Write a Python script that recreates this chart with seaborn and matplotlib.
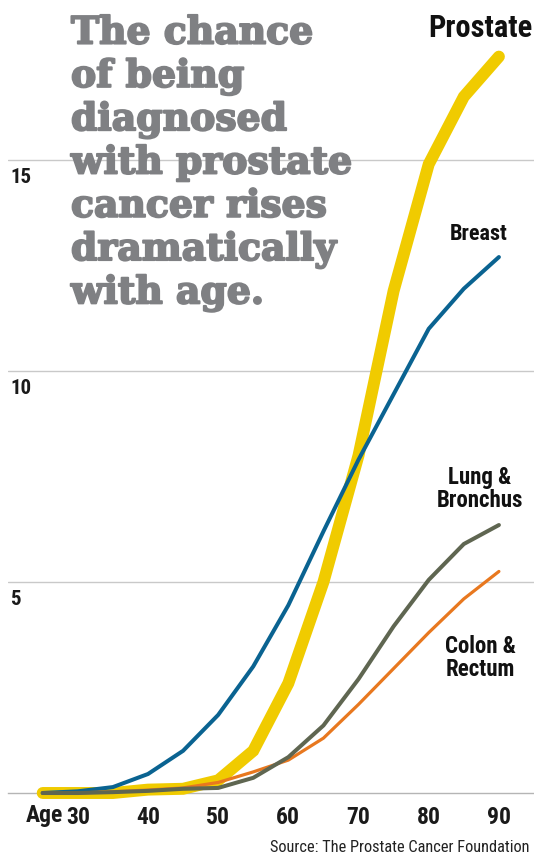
import numpy as np
import pandas as pd
import matplotlib
matplotlib.use('Agg')
import matplotlib.pyplot as plt
import matplotlib.patheffects as pe
import seaborn as sns

# lifetime chance (%) of diagnosis by age
ages = [25, 30, 35, 40, 45, 50, 55, 60, 65, 70, 75, 80, 85, 90]
prostate = [0.0, 0.0, 0.0, 0.08, 0.1, 0.3, 1.0, 2.6, 5.0, 8.0, 11.9, 14.9, 16.5, 17.45]
breast = [0.0, 0.04, 0.14, 0.45, 1.0, 1.85, 3.0, 4.45, 6.2, 7.9, 9.45, 11.0, 11.95, 12.7]
lung = [0.0, 0.0, 0.02, 0.05, 0.1, 0.12, 0.36, 0.85, 1.6, 2.7, 3.95, 5.05, 5.9, 6.35]
colon = [0.0, 0.0, 0.03, 0.07, 0.12, 0.25, 0.5, 0.78, 1.3, 2.1, 2.95, 3.8, 4.6, 5.25]

series_names = ['Prostate', 'Breast', 'Colon & Rectum', 'Lung & Bronchus']
series_colors = ['#f0cb00', '#0a6391', '#e8781f', '#5f6651']
series_widths = [8.6, 2.9, 2.3, 2.9]

y_ticks = [5, 10, 15]
x_ticks = [30, 40, 50, 60, 70, 80, 90]
title_lines = ['The chance', 'of being', 'diagnosed', 'with prostate',
               'cancer rises', 'dramatically', 'with age.']

df = pd.DataFrame({
    'age': ages * 4,
    'pct': prostate + breast + colon + lung,
    'site': sum([[n] * len(ages) for n in series_names], []),
})

sns.set_style('white')
narrow = dict(family=['Roboto Condensed', 'Archivo Narrow', 'Liberation Sans Narrow', 'DejaVu Sans'],
              stretch='condensed')
slab = dict(family=['DejaVu Serif'])

W, H = 534, 855
fig = plt.figure(figsize=(W / 100, H / 100), dpi=100)
ax = fig.add_axes([7.6 / W, 62 / H, 1 - 7.6 / W, 793 / H])


def px(x, y):
    return x / W, 1 - y / H


for name, col, lw in zip(series_names, series_colors, series_widths):
    sns.lineplot(data=df[df['site'] == name], x='age', y='pct', color=col,
                 linewidth=lw, ax=ax, solid_capstyle='round',
                 solid_joinstyle='miter', clip_on=False, zorder=3)

ax.set_xlim(20, 95)
ax.set_ylim(0, 793 / 42.2)
for s in ['top', 'right', 'left']:
    ax.spines[s].set_visible(False)
ax.spines['bottom'].set_color('#b5b5b5')
ax.spines['bottom'].set_linewidth(1)

ax.set_yticks(y_ticks)
ax.set_yticklabels([])
ax.tick_params(axis='y', length=0)
ax.grid(axis='y', color='#c9c9c9', linewidth=1)
ax.grid(axis='x', visible=False)

ax.set_xticks(range(30, 96, 5))
ax.set_xticklabels([str(a) if a in x_ticks else '' for a in range(30, 96, 5)],
                   fontsize=17, fontweight='bold', color='#1a1a1a', **narrow)
ax.tick_params(axis='x', direction='out', length=5, width=1, color='#b5b5b5', pad=4)
ax.set_xlabel('')
ax.set_ylabel('')

ax.annotate('Age', xy=(30, 0), xytext=(-11, -7.8), textcoords='offset points',
            ha='right', va='top', fontsize=17, fontweight='bold', color='#1a1a1a',
            annotation_clip=False, **narrow)

for v in y_ticks:
    ax.annotate(str(v), xy=(20, v), xytext=(2, -5.5), textcoords='offset points',
                ha='left', va='top', fontsize=15, fontweight='bold', color='#1a1a1a',
                **narrow)

for i, line in enumerate(title_lines):
    fig.text(*px(71, 43.6 + 43.3 * i), line, ha='left', va='baseline',
             fontsize=27.2, fontweight='bold', color='#7f8083',
             path_effects=[pe.withStroke(linewidth=1.4, foreground='#7f8083')], **slab)

fig.text(*px(532, 28), 'Prostate', ha='right', va='center', fontsize=22,
         fontweight='bold', color='#111111', **narrow)
fig.text(*px(479, 234), 'Breast', ha='center', va='center', fontsize=16,
         fontweight='bold', color='#111111', **narrow)
fig.text(*px(480, 489), 'Lung &\nBronchus', ha='center', va='center', fontsize=16.5,
         fontweight='bold', color='#111111', linespacing=1.0, **narrow)
fig.text(*px(480, 658), 'Colon &\nRectum', ha='center', va='center', fontsize=16.5,
         fontweight='bold', color='#111111', linespacing=1.0, **narrow)

fig.text(*px(530, 847), 'Source: The Prostate Cancer Foundation', ha='right',
         va='center', fontsize=11.8, color='#222222', **narrow)

fig.savefig('out.png', dpi=100)
